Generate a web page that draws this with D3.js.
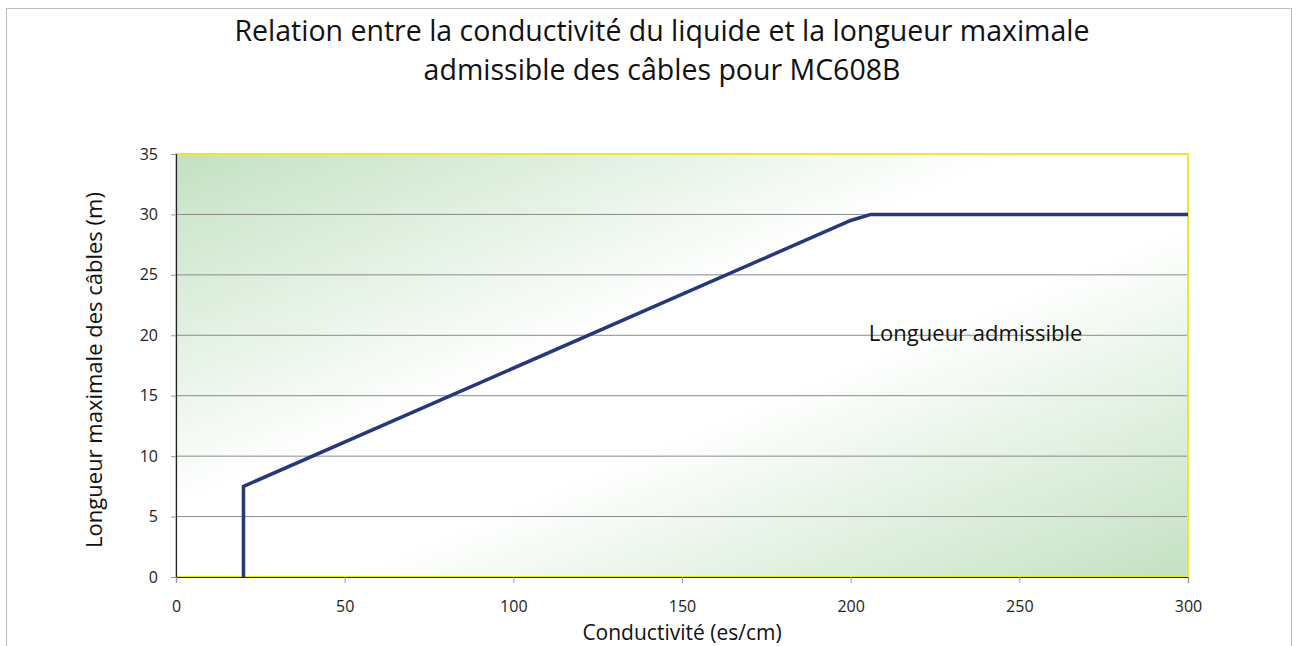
<!DOCTYPE html>
<html>
<head>
<meta charset="utf-8">
<script src="https://cdn.jsdelivr.net/npm/d3@7"></script>
<style>
  body { margin: 0; background: #fff; }
  text { font-family: "Open Sans", "Noto Sans", sans-serif; }
</style>
</head>
<body>
<div id="chart"></div>
<script>
// data
const conductivity = [20, 20, 200, 206, 300];
const maxLength = [0, 7.5, 29.5, 30, 30];
const xTicks = [0, 50, 100, 150, 200, 250, 300];
const yTicks = [0, 5, 10, 15, 20, 25, 30, 35];
const titleLines = ["Relation entre la conductivité du liquide et la longueur maximale", "admissible des câbles pour MC608B"];

const width = 1298, height = 646;
const margin = {left: 176, right: 110, top: 154, bottom: 69};

const svg = d3.select("#chart")
  .append("svg")
  .attr("width", width)
  .attr("height", height);

// outer frame
svg.append("rect")
  .attr("x", 6.5).attr("y", 8.5)
  .attr("width", 1285).attr("height", 660)
  .attr("fill", "#fff")
  .attr("stroke", "#bdbdbd")
  .attr("stroke-width", 1);

const x = d3.scaleLinear().domain([0, 300]).range([margin.left, width - margin.right]);
const y = d3.scaleLinear().domain([0, 35]).range([height - margin.bottom, margin.top]);

// background gradient of the plot area
const defs = svg.append("defs");
const grad = defs.append("linearGradient")
  .attr("id", "bg")
  .attr("x1", "0%").attr("y1", "0%")
  .attr("x2", "100%").attr("y2", "100%");
grad.append("stop").attr("offset", "0%").attr("stop-color", "#c3e1c3");
grad.append("stop").attr("offset", "42%").attr("stop-color", "#ffffff");
grad.append("stop").attr("offset", "58%").attr("stop-color", "#ffffff");
grad.append("stop").attr("offset", "100%").attr("stop-color", "#c3e1c3");

svg.append("rect")
  .attr("x", x(0)).attr("y", y(35))
  .attr("width", x(300) - x(0)).attr("height", y(0) - y(35))
  .attr("fill", "url(#bg)");

// grid lines
svg.append("g")
  .selectAll("line")
  .data(yTicks.filter(d => d > 0 && d < 35))
  .join("line")
  .attr("x1", x(0)).attr("x2", x(300))
  .attr("y1", d => y(d)).attr("y2", d => y(d))
  .attr("stroke", "#8a8a8a")
  .attr("stroke-width", 1);

// plot border (yellow)
svg.append("rect")
  .attr("x", x(0)).attr("y", y(35))
  .attr("width", x(300) - x(0)).attr("height", y(0) - y(35))
  .attr("fill", "none")
  .attr("stroke", "#ece830")
  .attr("stroke-width", 2);

// axes
const yAxis = svg.append("g")
  .attr("transform", `translate(${x(0)},0)`)
  .call(d3.axisLeft(y).tickValues(yTicks).tickSize(5).tickPadding(13));
const xAxis = svg.append("g")
  .attr("transform", `translate(0,${y(0)})`)
  .call(d3.axisBottom(x).tickValues(xTicks).tickSize(6).tickPadding(17.5));

[yAxis, xAxis].forEach(a => {
  a.select(".domain").attr("stroke", "#222").attr("stroke-width", 1.2);
  a.selectAll(".tick line").attr("stroke", "#999");
  a.selectAll(".tick text")
    .attr("font-size", "16px")
    .attr("fill", "#222")
    .attr("font-family", "'Open Sans', sans-serif");
});

// the curve
const line = d3.line()
  .x((d, i) => x(conductivity[i]))
  .y(d => y(d));

svg.append("path")
  .datum(maxLength)
  .attr("d", line)
  .attr("fill", "none")
  .attr("stroke", "#26377a")
  .attr("stroke-width", 3.5)
  .attr("stroke-linejoin", "miter");

// label in the plot
svg.append("text")
  .attr("x", x(237)).attr("y", y(20))
  .attr("text-anchor", "middle")
  .attr("dominant-baseline", "middle")
  .attr("font-size", "22px")
  .attr("fill", "#111")
  .text("Longueur admissible");

// title
svg.append("g")
  .selectAll("text")
  .data(titleLines)
  .join("text")
  .attr("x", 662)
  .attr("y", (d, i) => 41 + i * 39)
  .attr("text-anchor", "middle")
  .attr("font-size", "28.5px")
  .attr("fill", "#111")
  .text(d => d);

// axis titles
svg.append("text")
  .attr("x", 682).attr("y", 640)
  .attr("text-anchor", "middle")
  .attr("font-size", "21px")
  .attr("fill", "#111")
  .text("Conductivité (es/cm)");

svg.append("text")
  .attr("transform", "translate(102,370) rotate(-90)")
  .attr("text-anchor", "middle")
  .attr("font-size", "22px")
  .attr("fill", "#111")
  .text("Longueur maximale des câbles (m)");
</script>
</body>
</html>
